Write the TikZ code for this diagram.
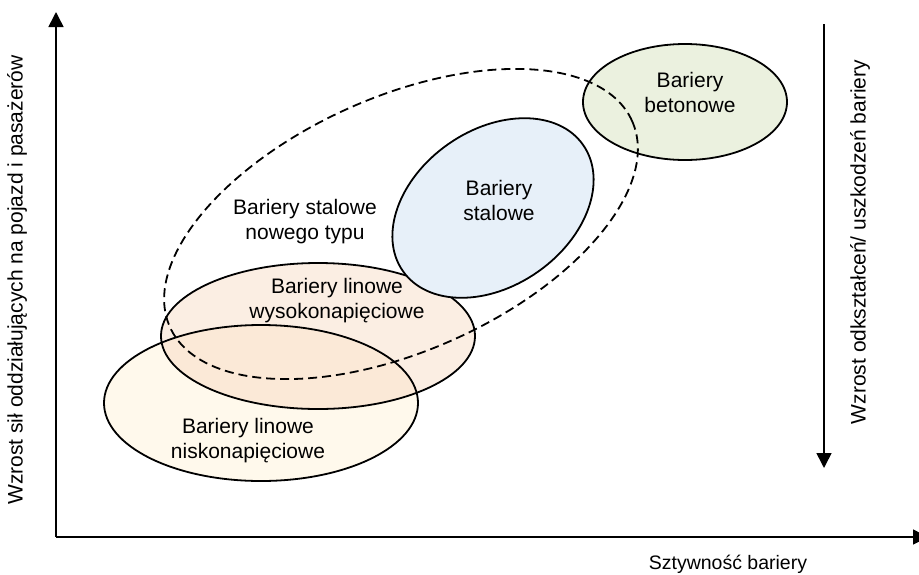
\documentclass[tikz,border=0pt]{standalone}
\usepackage{fontspec}
\setmainfont{Liberation Sans}
\usetikzlibrary{arrows.meta}
\definecolor{betonfill}{HTML}{EBF1DF}
\definecolor{stalfill}{HTML}{E7F0F9}
\definecolor{wysofill}{HTML}{F4CDB0}
\definecolor{niskofill}{HTML}{FFF9EC}
\begin{document}
\begin{tikzpicture}[x=1pt,y=-1pt,
  lbl/.style={font=\fontsize{21}{25}\selectfont, align=center, inner sep=0pt},
  ell/.style={draw=black, line width=1.8pt},
  axisline/.style={line width=1.5pt, -{Triangle[length=15pt,width=15pt]}},
  dashline/.style={draw=black, line width=1.8pt, dash pattern=on 9pt off 5pt},
]
\useasboundingbox (0,0) rectangle (919,574);
\clip (0,0) rectangle (919,574);
% axes
\coordinate (origin) at (56,537);
\coordinate (ytip) at (56,12);
\coordinate (xtip) at (928,537);
\coordinate (rtop) at (824,24);
\coordinate (rtip) at (824,468);
\draw[axisline] (origin) -- (ytip);
\draw[axisline] (origin) -- (xtip);
\draw[axisline] (rtop) -- (rtip);
% fills
\fill[niskofill] (261,403) ellipse [x radius=157pt, y radius=78pt];
\fill[wysofill, fill opacity=0.35] (318,336) ellipse [x radius=157pt, y radius=73pt];
\draw[ell] (261,403) ellipse [x radius=157pt, y radius=78pt];
\draw[ell] (318,336) ellipse [x radius=157pt, y radius=73pt];
\filldraw[ell, fill=stalfill, rotate around={35:(493,208)}] (493,208) ellipse [x radius=110pt, y radius=78pt];
\filldraw[ell, fill=betonfill] (685,102) ellipse [x radius=102pt, y radius=58pt];
\draw[dashline, rotate around={24:(401,224)}] (401,224) ellipse [x radius=253pt, y radius=127pt];
% labels
\node[lbl] (beton) at (690,92) {Bariery\\betonowe};
\node[lbl] (stal) at (499,200) {Bariery\\stalowe};
\node[lbl] (nowe) at (305,222) {Bariery stalowe\\nowego typu};
\node[lbl] (wyso) at (337,301) {Bariery linowe\\wysokonapięciowe};
\node[lbl] (nisko) at (248,441) {Bariery linowe\\niskonapięciowe};
\node[lbl, rotate=90] (ylab) at (17,280) {Wzrost sił oddziałujących na pojazd i pasażerów};
\node[lbl, rotate=90] (rlab) at (860,242) {Wzrost odkształceń/ uszkodzeń bariery};
\node[lbl, font=\fontsize{19.5}{23}\selectfont] (xlab) at (728,564) {Sztywność bariery};
\end{tikzpicture}
\end{document}
